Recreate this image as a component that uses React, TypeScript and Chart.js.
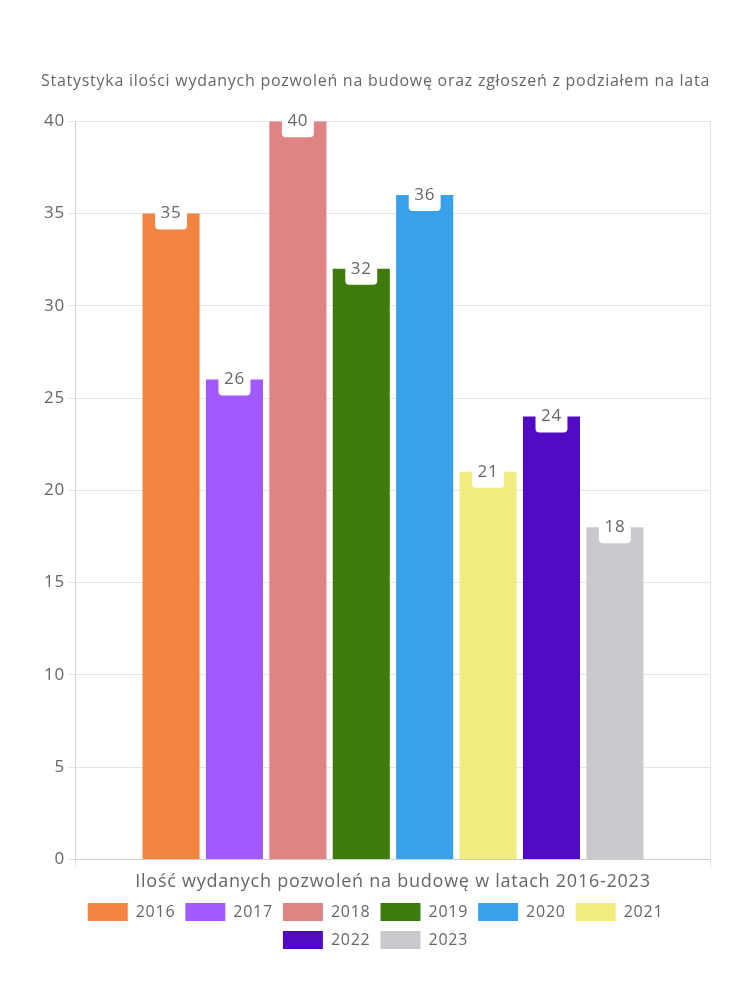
import React, { useEffect, useRef } from "react";
import { Chart, registerables } from "chart.js";

Chart.register(...registerables);

const categories = [""];
const years = ["2016", "2017", "2018", "2019", "2020", "2021", "2022", "2023"];
const values = [35, 26, 40, 32, 36, 21, 24, 18];
const colors = ["#F48441", "#A259FF", "#E08385", "#3E7B0D", "#37A2EB", "#F0EC7E", "#520BC4", "#C9CACD"];
const titleText = "Statystyka ilości wydanych pozwoleń na budowę oraz zgłoszeń z podziałem na lata";
const xTitle = "Ilość wydanych pozwoleń na budowę w latach 2016-2023";
const yTicks = [0, 5, 10, 15, 20, 25, 30, 35, 40];
const FONT = "'Open Sans', 'Noto Sans', sans-serif";
const SPACING = "0.75px";

const spacingPlugin = {
  id: "spacing",
  beforeUpdate(chart: any) {
    (chart.ctx as any).letterSpacing = SPACING;
  },
  beforeLayout(chart: any) {
    (chart.ctx as any).letterSpacing = SPACING;
  },
  beforeDraw(chart: any) {
    (chart.ctx as any).letterSpacing = SPACING;
  },
};

const labelPlugin = {
  id: "boxLabels",
  afterDatasetsDraw(chart: any) {
    const ctx = chart.ctx;
    ctx.save();
    ctx.letterSpacing = SPACING;
    ctx.font = `17px ${FONT}`;
    ctx.textAlign = "center";
    ctx.textBaseline = "middle";
    chart.data.datasets.forEach((ds: any, i: number) => {
      const meta = chart.getDatasetMeta(i);
      meta.data.forEach((bar: any, j: number) => {
        const txt = String(ds.data[j]);
        const w = ctx.measureText(txt).width + 11;
        const h = 32;
        const x = bar.x - w / 2;
        const y = bar.y - h / 2;
        ctx.fillStyle = "#ffffff";
        ctx.beginPath();
        ctx.roundRect(x, y, w, h, 4);
        ctx.fill();
        ctx.fillStyle = "#666666";
        ctx.fillText(txt, bar.x, bar.y);
      });
    });
    ctx.restore();
  },
};

export default function App() {
  const ref = useRef<HTMLCanvasElement>(null);
  useEffect(() => {
    if (!ref.current) return;
    const chart = new Chart(ref.current, {
      type: "bar",
      data: {
        labels: categories,
        datasets: years.map((y, i) => ({
          label: y,
          data: [values[i]],
          backgroundColor: colors[i],
          borderColor: colors[i],
          categoryPercentage: 0.8,
          barPercentage: 0.9,
        })),
      },
      options: {
        responsive: false,
        animation: false,
        layout: { padding: { top: 72, right: 40, left: 41, bottom: 41 } },
        plugins: {
          title: {
            display: true,
            text: titleText,
            color: "#666",
            font: { family: FONT, size: 16, weight: "normal" },
            padding: { top: 0, bottom: 30 },
          },
          legend: {
            position: "bottom",
            labels: {
              color: "#666",
              boxWidth: 40,
              boxHeight: 18,
              font: { family: FONT, size: 16 },
              padding: 10,
            },
          },
          tooltip: { enabled: false },
        },
        scales: {
          x: {
            grid: { display: true, color: "rgba(0,0,0,0.1)" },
            ticks: { display: false },
            title: {
              display: true,
              text: xTitle,
              color: "#666",
              font: { family: FONT, size: 18 },
              padding: { top: 4, bottom: 0 },
            },
          },
          y: {
            min: yTicks[0],
            max: yTicks[yTicks.length - 1],
            afterBuildTicks: (axis: any) => {
              axis.ticks = yTicks.map((v) => ({ value: v }));
            },
            ticks: { color: "#666", font: { family: FONT, size: 17 } },
            grid: { color: "rgba(0,0,0,0.1)" },
          },
        },
      },
      plugins: [spacingPlugin, labelPlugin],
    });
    return () => chart.destroy();
  }, []);
  return (
    <div style={{ position: "absolute", left: 0, top: 0, width: 750, height: 1000 }}>
      <canvas ref={ref} width={750} height={1000} />
    </div>
  );
}
